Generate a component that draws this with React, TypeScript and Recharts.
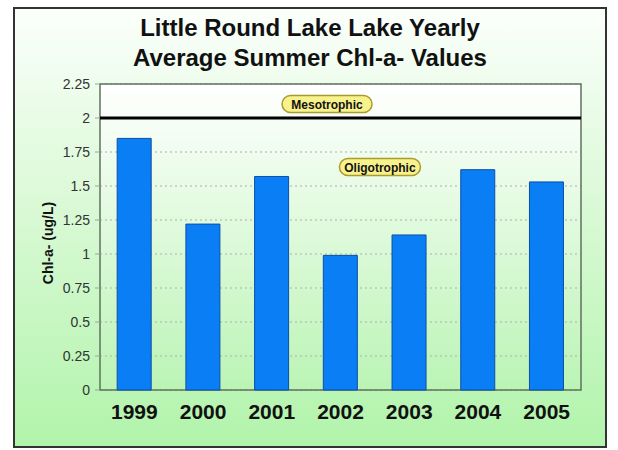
import React from 'react';
import {
  BarChart,
  Bar,
  XAxis,
  YAxis,
  CartesianGrid,
  ReferenceLine,
  ReferenceArea,
} from 'recharts';

const years = ['1999', '2000', '2001', '2002', '2003', '2004', '2005'];
const chlA = [1.85, 1.22, 1.57, 0.99, 1.14, 1.62, 1.53];
const yTicks = [0, 0.25, 0.5, 0.75, 1, 1.25, 1.5, 1.75, 2, 2.25];
const mesotrophicLimit = 2;
const titleLines = ['Little Round Lake Lake Yearly', 'Average Summer Chl-a- Values'];

const data = years.map((year, i) => ({ year, value: chlA[i] }));

const FONT = 'Arial, "Liberation Sans", sans-serif';

// yellow rounded tag hung off a reference line
const Pill = (props: any) => {
  const { viewBox, text, frac, dy, w } = props;
  if (!viewBox) return null;
  const cx = viewBox.x + viewBox.width * frac;
  const cy = viewBox.y + dy;
  return (
    <g>
      <rect
        x={cx - w / 2}
        y={cy - 8.5}
        width={w}
        height={17}
        rx={8.5}
        fill="#f8f28c"
        stroke="#a99b2c"
        strokeWidth={1.5}
      />
      <text
        x={cx}
        y={cy + 0.5}
        textAnchor="middle"
        dominantBaseline="central"
        fontSize={12}
        fontWeight="bold"
        fontFamily={FONT}
        fill="#111"
      >
        {text}
      </text>
    </g>
  );
};

export default function App() {
  return (
    <div style={{ position: 'absolute', left: 0, top: 0, width: 618, height: 450, fontFamily: FONT }}>
      <div
        style={{
          position: 'absolute',
          left: 13,
          top: 7,
          width: 594,
          height: 441,
          boxSizing: 'border-box',
          border: '2px solid #333',
          background: 'linear-gradient(to bottom, #fbfffb 0%, #daf9d6 45%, #b1f4ab 100%)',
        }}
      />
      <div
        style={{
          position: 'absolute',
          left: 0,
          top: 13,
          width: 620,
          textAlign: 'center',
          fontSize: 24,
          lineHeight: '30px',
          fontWeight: 'bold',
          color: '#111',
        }}
      >
        {titleLines.map((t) => (
          <div key={t}>{t}</div>
        ))}
      </div>
      <div style={{ position: 'absolute', left: 0, top: 0 }}>
        <BarChart
          width={618}
          height={450}
          data={data}
          margin={{ top: 84, right: 37, left: 30, bottom: 20 }}
          barCategoryGap="25%"
          style={{ fontFamily: FONT }}
        >
          <defs>
            <linearGradient id="plotBg" x1="0" y1="0" x2="0" y2="1">
              <stop offset="0%" stopColor="#ffffff" />
              <stop offset="100%" stopColor="#bbf4b5" />
            </linearGradient>
          </defs>
          <CartesianGrid
            vertical={false}
            stroke="#a9b3a9"
            strokeDasharray="2 3"
            fill="url(#plotBg)"
            fillOpacity={1}
          />
          <XAxis
            dataKey="year"
            height={40}
            axisLine={false}
            tickLine={false}
            tickSize={0}
            tickMargin={14}
            interval={0}
            tick={{ fontSize: 21, fontWeight: 'bold', fill: '#111' }}
          />
          <YAxis
            width={70}
            domain={[0, 2.25]}
            ticks={yTicks}
            interval={0}
            axisLine={false}
            tickLine={{ stroke: '#9aa59a' }}
            tickSize={5}
            tickMargin={5}
            tick={{ fontSize: 14, fill: '#333' }}
            label={{
              value: 'Chl-a- (ug/L)',
              angle: -90,
              position: 'center',
              dx: -17,
              dy: 6,
              style: { fontSize: 14, fontWeight: 'bold', fill: '#111' },
            }}
          />
          <Bar
            dataKey="value"
            fill="#0a7ef4"
            stroke="#0b4fa6"
            strokeWidth={1}
            isAnimationActive={false}
          />
          <ReferenceArea y1={0} y2={2.25} fill="none" stroke="#5f735f" strokeWidth={1.5} />
          <ReferenceLine
            y={mesotrophicLimit}
            stroke="#000"
            strokeWidth={3}
            label={(p: any) => <Pill {...p} text="Mesotrophic" frac={0.472} dy={-14} w={90} />}
          />
          <ReferenceLine
            y={mesotrophicLimit}
            stroke="none"
            label={(p: any) => <Pill {...p} text="Oligotrophic" frac={0.582} dy={49} w={81} />}
          />
        </BarChart>
      </div>
    </div>
  );
}
